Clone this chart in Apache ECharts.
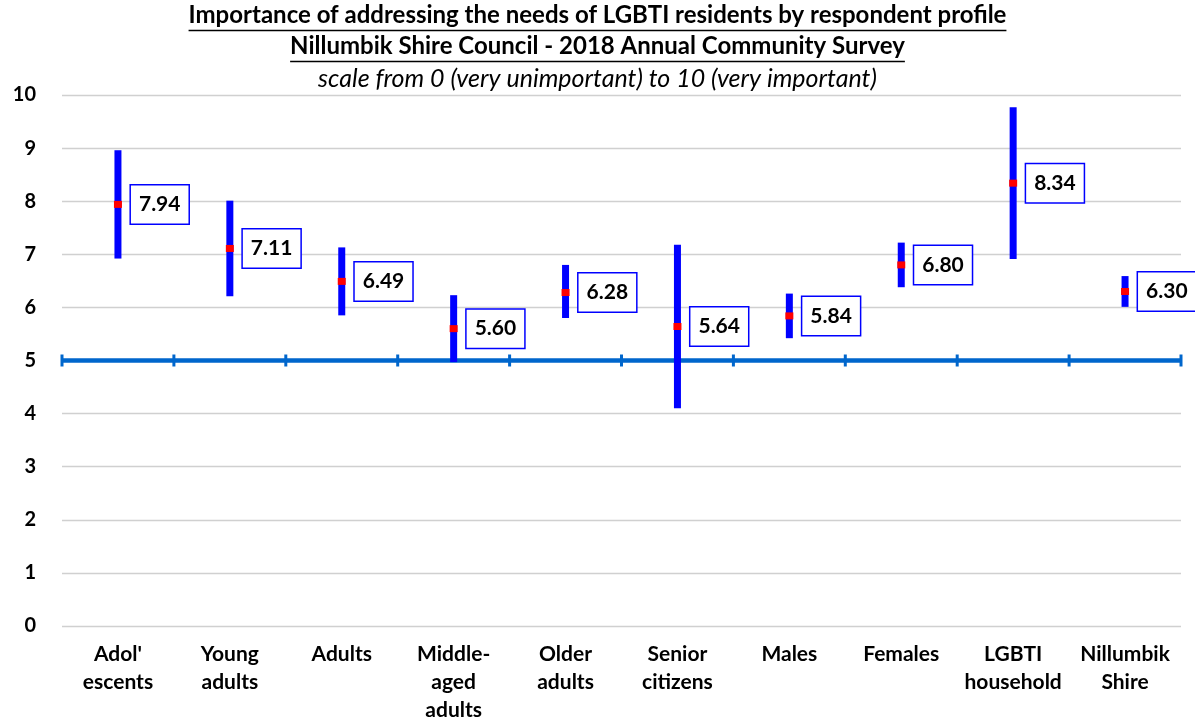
<!DOCTYPE html>
<html>
<head>
<meta charset="utf-8">
<script src="https://cdn.jsdelivr.net/npm/echarts@6/dist/echarts.min.js"></script>
<style>
  html, body { margin: 0; padding: 0; background: #fff; }
  #chart { width: 1195px; height: 724px; }
</style>
</head>
<body>
<div id="chart"></div>
<script>
// Respondent groups along the horizontal axis
const categories = ["Adol'\nescents", "Young\nadults", "Adults", "Middle-\naged\nadults", "Older\nadults",
                    "Senior\ncitizens", "Males", "Females", "LGBTI\nhousehold", "Nillumbik\nShire"];
// Mean importance score per group
const means = [7.94, 7.11, 6.49, 5.60, 6.28, 5.64, 5.84, 6.80, 8.34, 6.30];
// Lower and upper ends of the confidence interval per group
const lows  = [6.92, 6.21, 5.85, 4.97, 5.80, 4.10, 5.42, 6.38, 6.91, 6.01];
const highs = [8.96, 8.01, 7.13, 6.23, 6.80, 7.18, 6.26, 7.22, 9.77, 6.59];
// Scale midpoint reference line
const midpoint = 5;
// Title lines
const titleLines = [
  "Importance of addressing the needs of LGBTI residents by respondent profile",
  "Nillumbik Shire Council - 2018 Annual Community Survey",
  "scale from 0 (very unimportant) to 10 (very important)"
];

const FONT = "Lato, 'Open Sans', sans-serif";
const chart = echarts.init(document.getElementById('chart'), null, { renderer: 'canvas' });

// measure text so the underline spans the title text exactly
const mctx = document.createElement('canvas').getContext('2d');
function textWidth(str, font) { mctx.font = font; return mctx.measureText(str).width; }

const titleStyles = [
  { size: 24, weight: 'bold', style: 'normal', y: 18, underline: true },
  { size: 24, weight: 'bold', style: 'normal', y: 49, underline: true },
  { size: 25, weight: 'normal', style: 'italic', y: 81, underline: false }
];
const cx = 1195 / 2;
const graphics = [];
titleLines.forEach((t, i) => {
  const s = titleStyles[i];
  graphics.push({
    type: 'text', left: 'center', top: s.y - s.size * 0.6,
    style: { text: t, fill: '#000', font: `${s.style} ${s.weight} ${s.size}px ${FONT}` }
  });
  if (s.underline) {
    const w = textWidth(t, `${s.style} ${s.weight} ${s.size}px Lato`);
    graphics.push({
      type: 'line', silent: true,
      shape: { x1: cx - w / 2, y1: s.y + 12.5, x2: cx + w / 2, y2: s.y + 12.5 },
      style: { stroke: '#000', lineWidth: 1.5 }
    });
  }
});

const option = {
  animation: false,
  backgroundColor: '#fff',
  graphic: graphics,
  grid: { left: 62, right: 14, top: 95, bottom: 97, containLabel: false },
  xAxis: {
    type: 'category', data: categories, boundaryGap: true,
    axisLine: { show: false }, axisTick: { show: false },
    axisLabel: { color: '#000', fontFamily: FONT, fontWeight: 'bold', fontSize: 21, lineHeight: 28, margin: 14, interval: 0 }
  },
  yAxis: {
    type: 'value', min: 0, max: 10, interval: 1,
    axisLine: { show: false }, axisTick: { show: false },
    axisLabel: { color: '#000', fontFamily: FONT, fontWeight: 'bold', fontSize: 20, margin: 26 },
    splitLine: { show: true, lineStyle: { color: '#D0D0D0', width: 1.3 } }
  },
  series: [
    {
      // midpoint line with boundary ticks, one segment per category
      type: 'custom', z: 2, silent: true,
      data: categories.map((c, i) => [i, midpoint]),
      renderItem: function (params, api) {
        const p = api.coord([api.value(0), api.value(1)]);
        const half = api.size([1, 0])[0] / 2;
        const kids = [
          { type: 'line', shape: { x1: p[0] - half, y1: p[1], x2: p[0] + half, y2: p[1] },
            style: { stroke: '#0066CC', lineWidth: 4.5 } },
          { type: 'rect', shape: { x: p[0] - half - 1.5, y: p[1] - 6, width: 3, height: 12 },
            style: { fill: '#0066CC' } }
        ];
        if (params.dataIndex === categories.length - 1) {
          kids.push({ type: 'rect', shape: { x: p[0] + half - 1.5, y: p[1] - 6, width: 3, height: 12 },
            style: { fill: '#0066CC' } });
        }
        return { type: 'group', children: kids };
      }
    },
    {
      // confidence interval bars
      type: 'custom', z: 3, silent: true,
      data: categories.map((c, i) => [i, lows[i], highs[i]]),
      renderItem: function (params, api) {
        const lo = api.coord([api.value(0), api.value(1)]);
        const hi = api.coord([api.value(0), api.value(2)]);
        return { type: 'rect', shape: { x: lo[0] - 3.5, y: hi[1], width: 7, height: lo[1] - hi[1] },
                 style: { fill: '#0000FF' } };
      }
    },
    {
      // mean markers with value boxes
      type: 'scatter', z: 4, silent: true,
      data: means,
      symbol: 'rect', symbolSize: [8, 7],
      itemStyle: { color: '#FF0000', opacity: 1 },
      label: {
        show: true, position: 'right', distance: 9,
        formatter: p => p.value.toFixed(2),
        color: '#000', fontFamily: FONT, fontWeight: 'bold', fontSize: 21, lineHeight: 22,
        backgroundColor: '#fff', borderColor: '#0000FF', borderWidth: 1.5,
        padding: [8, 8, 8, 8]
      }
    }
  ]
};
chart.setOption(option);
</script>
</body>
</html>
